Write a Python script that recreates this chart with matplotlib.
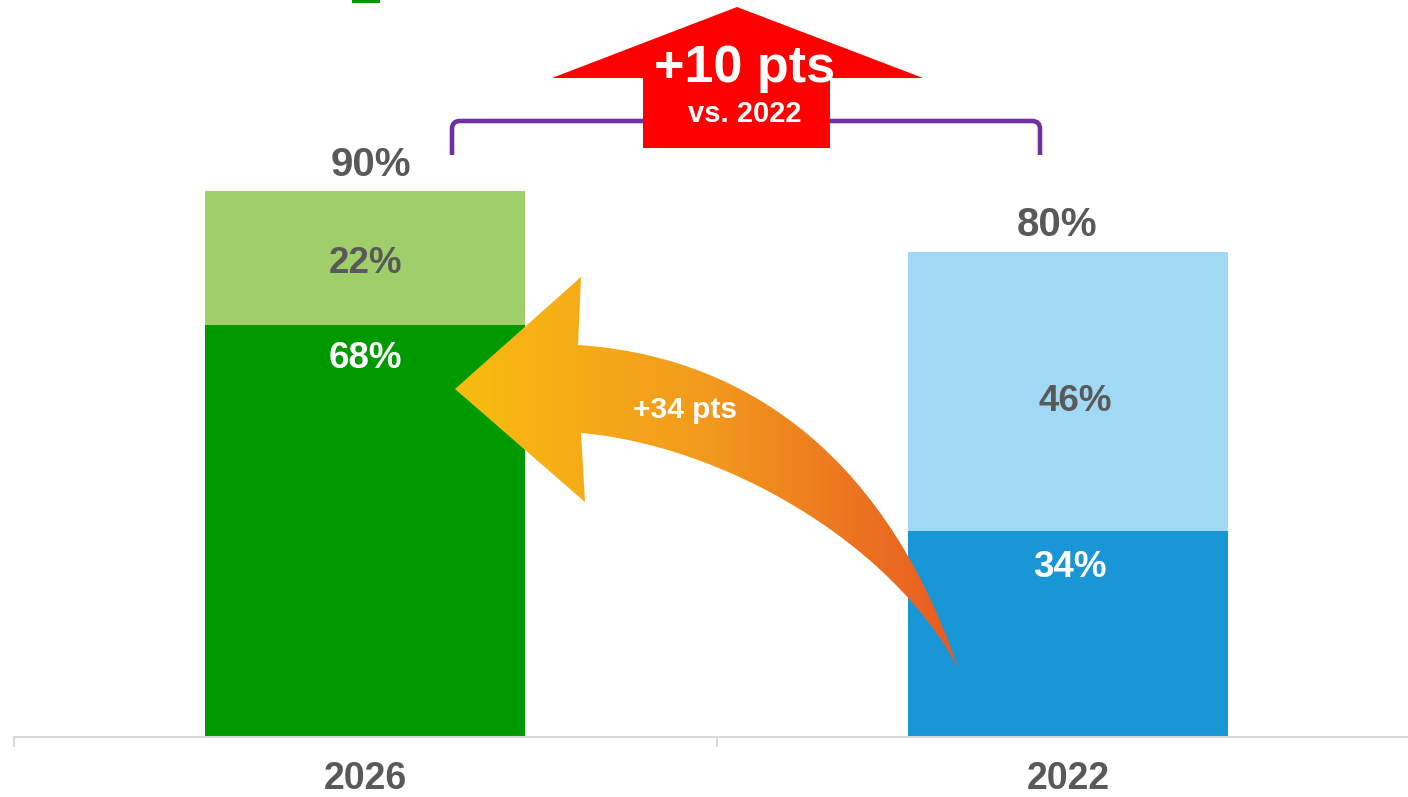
import numpy as np
import matplotlib
matplotlib.use("Agg")
import matplotlib.pyplot as plt
from matplotlib.path import Path
from matplotlib.patches import PathPatch, Polygon, Rectangle
from matplotlib.colors import LinearSegmentedColormap

plt.rcParams['font.family'] = ['Liberation Sans', 'DejaVu Sans']
plt.rcParams['font.weight'] = 'bold'

# Data
years = ['2026', '2022']
base_share = [68, 34]       # lower segment
added_share = [22, 46]      # upper segment
totals = [b + a for b, a in zip(base_share, added_share)]
base_colors = ['#009900', '#1996d5']
added_colors = ['#a0ce6b', '#a1d8f3']
gray = '#595959'

# label nudges (points), as placed in the original slide
base_off = [(0, -31), (1, -33)]
added_off = [(0, -11), (5, -14)]
total_off = [(4, 11), (-8, 11)]

fig = plt.figure(figsize=(14.08, 7.97), dpi=100)
ax = fig.add_axes([14 / 1408, 60 / 797, 1394 / 1408, 737 / 797])

x = np.arange(len(years))
w = 320 / 703
ax.bar(x, base_share, width=w, color=base_colors, zorder=2)
ax.bar(x, added_share, bottom=base_share, width=w, color=added_colors, zorder=2)

for i, xi in enumerate(x):
    b, a, t = base_share[i], added_share[i], totals[i]
    ax.annotate(f'{b}%', (xi, b), xytext=base_off[i], textcoords='offset points',
                ha='center', va='baseline', color='white', fontsize=26.5)
    ax.annotate(f'{a}%', (xi, b + a / 2), xytext=added_off[i], textcoords='offset points',
                ha='center', va='baseline', color=gray, fontsize=26.5)
    ax.annotate(f'{t}%', (xi, t), xytext=total_off[i], textcoords='offset points',
                ha='center', va='baseline', color=gray, fontsize=29)

for s in ['left', 'right', 'top']:
    ax.spines[s].set_visible(False)
ax.spines['bottom'].set_color('#d9d9d9')
ax.spines['bottom'].set_linewidth(1.5)
ax.set_yticks([])
ax.set_xticks(x)
ax.set_xticklabels(years, fontsize=27, color=gray)
ax.tick_params(axis='x', which='major', length=0, pad=17)
ax.set_xticks([-0.5, 0.5, 1.5], minor=True)
ax.tick_params(axis='x', which='minor', length=7.2, width=1.5, color='#d9d9d9')
ax.set_xlim(-0.5, 1.483)
ax.set_ylim(0, 121.5)

# Overlay in pixel coordinates for the annotations
ov = fig.add_axes([0, 0, 1, 1])
ov.patch.set_alpha(0)
ov.axis('off')

# Purple bracket
bx0, bx1, by0, by1 = 452, 1040, 155, 121
br = Path([(bx0, by0), (bx0, by1 + 8), (bx0, by1), (bx0 + 8, by1),
           (bx1 - 8, by1), (bx1, by1), (bx1, by1 + 8), (bx1, by0)],
          [Path.MOVETO, Path.LINETO, Path.CURVE3, Path.CURVE3,
           Path.LINETO, Path.CURVE3, Path.CURVE3, Path.LINETO])
ov.add_patch(PathPatch(br, fill=False, edgecolor='#7030a0', lw=3.3, capstyle='butt'))

# Red up arrow
ov.add_patch(Polygon([(552, 78), (737, 7), (923, 78), (830, 78), (830, 148),
                      (643, 148), (643, 78)], closed=True, color='#ff0000', lw=0))
ov.text(745, 82, '+10 pts', color='white', fontsize=37.5, ha='center', va='baseline')
ov.text(745, 122, 'vs. 2022', color='white', fontsize=21, ha='center', va='baseline')

# Curved gradient arrow
verts = [(455, 389), (581, 277), (578, 345),
         (730, 355), (880, 440), (958, 668),
         (890, 540), (720, 445), (581, 433),
         (585, 502), (455, 389)]
codes = [Path.MOVETO, Path.LINETO, Path.LINETO,
         Path.CURVE4, Path.CURVE4, Path.CURVE4,
         Path.CURVE4, Path.CURVE4, Path.CURVE4,
         Path.LINETO, Path.CLOSEPOLY]
arrow = PathPatch(Path(verts, codes), facecolor='none', edgecolor='none')
ov.add_patch(arrow)
cmap = LinearSegmentedColormap.from_list('og', ['#f8bd10', '#f29a1d', '#e85a22'])
grad = np.linspace(0, 1, 256).reshape(1, -1)
im = ov.imshow(grad, extent=[455, 958, 668, 277], cmap=cmap, aspect='auto', zorder=3)
im.set_clip_path(arrow)
ov.text(685, 418, '+34 pts', color='white', fontsize=21.5, ha='center', va='baseline', zorder=4)

# clipped legend marker at the top edge
ov.add_patch(Rectangle((352, 0), 28, 3, color='#009900', lw=0))

ov.set_xlim(0, 1408)
ov.set_ylim(797, 0)

fig.savefig('out.png', dpi=100)
